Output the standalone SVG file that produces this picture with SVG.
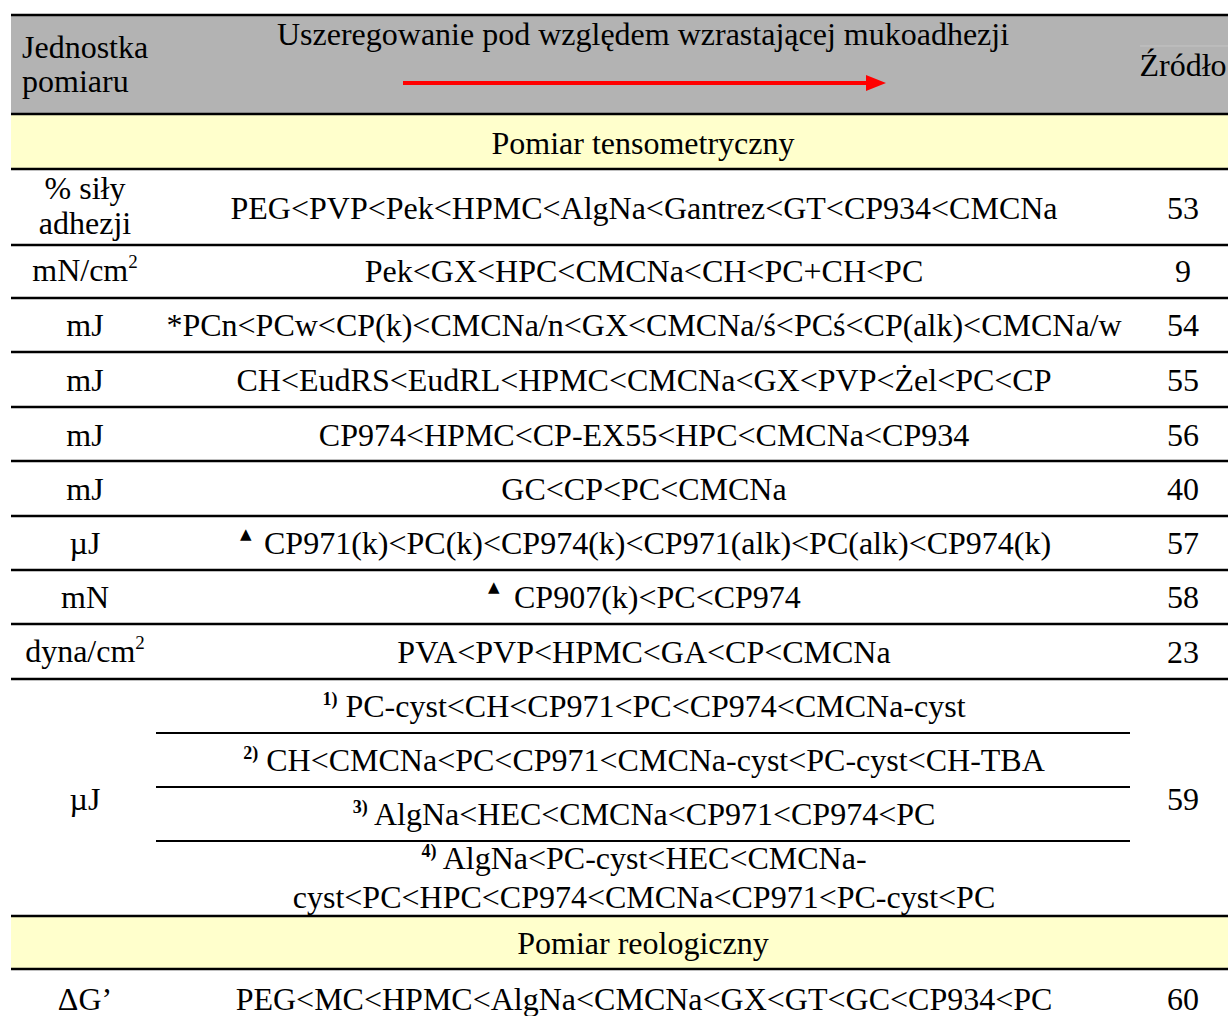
<svg xmlns="http://www.w3.org/2000/svg" width="1228" height="1016" viewBox="0 0 1228 1016">
<style>
text{font-family:"Liberation Serif","Times New Roman",serif;font-size:32px;fill:#000}
.c{text-anchor:middle}
.sup{font-size:19px}
.note{font-size:18px;font-weight:bold}
.tri{font-family:"DejaVu Sans",sans-serif;font-size:15px}
.ln{stroke:#000;stroke-width:2.5}
.sub{stroke:#000;stroke-width:2}
</style>
<defs>
<marker id="ah" markerWidth="6" markerHeight="4" refX="0" refY="2" orient="auto" markerUnits="strokeWidth">
<path d="M0,0 L5,2 L0,4 Z" fill="#ff0000"/>
</marker>
</defs>
<rect x="0" y="0" width="1228" height="1016" fill="#fff"/>
<g id="bands">
<rect x="11" y="15" width="1217" height="99" fill="#b3b3b3"/>
<rect x="11" y="114" width="1217" height="55" fill="#ffffcc"/>
<rect x="11" y="916" width="1217" height="53" fill="#ffffcc"/>
</g>
<g id="header">
<text x="22" y="58">Jednostka</text>
<text x="22" y="92">pomiaru</text>
<text class="c" x="643" y="45">Uszeregowanie pod względem wzrastającej mukoadhezji</text>
<line x1="1140" y1="46" x2="1228" y2="46" stroke="#c4c4c4" stroke-width="1"/>
<text class="c" x="1183" y="76">Źródło</text>
</g>
<g id="connectors">
<line x1="403" y1="83" x2="866" y2="83" stroke="#ff0000" stroke-width="4" marker-end="url(#ah)"/>
</g>
<g id="grid">
<line class="ln" x1="11" y1="15" x2="1228" y2="15"/>
<line class="ln" x1="11" y1="114" x2="1228" y2="114"/>
<line class="ln" x1="11" y1="169" x2="1228" y2="169"/>
<line class="ln" x1="11" y1="245" x2="1228" y2="245"/>
<line class="ln" x1="11" y1="298" x2="1228" y2="298"/>
<line class="ln" x1="11" y1="352" x2="1228" y2="352"/>
<line class="ln" x1="11" y1="407" x2="1228" y2="407"/>
<line class="ln" x1="11" y1="461" x2="1228" y2="461"/>
<line class="ln" x1="11" y1="516" x2="1228" y2="516"/>
<line class="ln" x1="11" y1="570" x2="1228" y2="570"/>
<line class="ln" x1="11" y1="624" x2="1228" y2="624"/>
<line class="ln" x1="11" y1="679" x2="1228" y2="679"/>
<line class="sub" x1="156" y1="733" x2="1130" y2="733"/>
<line class="sub" x1="156" y1="787" x2="1130" y2="787"/>
<line class="sub" x1="156" y1="841" x2="1130" y2="841"/>
<line class="ln" x1="11" y1="916" x2="1228" y2="916"/>
<line class="ln" x1="11" y1="969" x2="1228" y2="969"/>
</g>
<g id="section1">
<text class="c" x="643" y="154">Pomiar tensometryczny</text>
</g>
<g id="row53">
<text class="c" x="85" y="199">% siły</text>
<text class="c" x="85" y="234">adhezji</text>
<text class="c" x="644" y="219">PEG&lt;PVP&lt;Pek&lt;HPMC&lt;AlgNa&lt;Gantrez&lt;GT&lt;CP934&lt;CMCNa</text>
<text class="c" x="1183" y="219">53</text>
</g>
<g id="row9">
<text class="c" x="85" y="281">mN/cm<tspan class="sup" dy="-13">2</tspan></text>
<text class="c" x="644" y="282">Pek&lt;GX&lt;HPC&lt;CMCNa&lt;CH&lt;PC+CH&lt;PC</text>
<text class="c" x="1183" y="282">9</text>
</g>
<g id="row54">
<text class="c" x="85" y="336">mJ</text>
<text class="c" x="644" y="336">*PCn&lt;PCw&lt;CP(k)&lt;CMCNa/n&lt;GX&lt;CMCNa/ś&lt;PCś&lt;CP(alk)&lt;CMCNa/w</text>
<text class="c" x="1183" y="336">54</text>
</g>
<g id="row55">
<text class="c" x="85" y="391">mJ</text>
<text class="c" x="644" y="391">CH&lt;EudRS&lt;EudRL&lt;HPMC&lt;CMCNa&lt;GX&lt;PVP&lt;Żel&lt;PC&lt;CP</text>
<text class="c" x="1183" y="391">55</text>
</g>
<g id="row56">
<text class="c" x="85" y="446">mJ</text>
<text class="c" x="644" y="446">CP974&lt;HPMC&lt;CP-EX55&lt;HPC&lt;CMCNa&lt;CP934</text>
<text class="c" x="1183" y="446">56</text>
</g>
<g id="row40">
<text class="c" x="85" y="500">mJ</text>
<text class="c" x="644" y="500">GC&lt;CP&lt;PC&lt;CMCNa</text>
<text class="c" x="1183" y="500">40</text>
</g>
<g id="row57">
<text class="c" x="85" y="554">µJ</text>
<text class="tri" x="240" y="539">▲</text>
<text x="264" y="554">CP971(k)&lt;PC(k)&lt;CP974(k)&lt;CP971(alk)&lt;PC(alk)&lt;CP974(k)</text>
<text class="c" x="1183" y="554">57</text>
</g>
<g id="row58">
<text class="c" x="85" y="608">mN</text>
<text class="tri" x="488" y="592">▲</text>
<text x="514" y="608">CP907(k)&lt;PC&lt;CP974</text>
<text class="c" x="1183" y="608">58</text>
</g>
<g id="row23">
<text class="c" x="85" y="662">dyna/cm<tspan class="sup" dy="-13">2</tspan></text>
<text class="c" x="644" y="663">PVA&lt;PVP&lt;HPMC&lt;GA&lt;CP&lt;CMCNa</text>
<text class="c" x="1183" y="663">23</text>
</g>
<g id="row59">
<text class="c" x="85" y="810">µJ</text>
<text class="c" x="644" y="717"><tspan class="note" dy="-12">1)</tspan><tspan dy="12"> PC-cyst&lt;CH&lt;CP971&lt;PC&lt;CP974&lt;CMCNa-cyst</tspan></text>
<text class="c" x="644" y="771"><tspan class="note" dy="-12">2)</tspan><tspan dy="12"> CH&lt;CMCNa&lt;PC&lt;CP971&lt;CMCNa-cyst&lt;PC-cyst&lt;CH-TBA</tspan></text>
<text class="c" x="644" y="825"><tspan class="note" dy="-12">3)</tspan><tspan dy="12"> AlgNa&lt;HEC&lt;CMCNa&lt;CP971&lt;CP974&lt;PC</tspan></text>
<text class="c" x="644" y="869"><tspan class="note" dy="-12">4)</tspan><tspan dy="12"> AlgNa&lt;PC-cyst&lt;HEC&lt;CMCNa-</tspan></text>
<text class="c" x="644" y="908">cyst&lt;PC&lt;HPC&lt;CP974&lt;CMCNa&lt;CP971&lt;PC-cyst&lt;PC</text>
<text class="c" x="1183" y="810">59</text>
</g>
<g id="section2">
<text class="c" x="643" y="954">Pomiar reologiczny</text>
</g>
<g id="row60">
<text class="c" x="85" y="1010">ΔG’</text>
<text class="c" x="644" y="1010">PEG&lt;MC&lt;HPMC&lt;AlgNa&lt;CMCNa&lt;GX&lt;GT&lt;GC&lt;CP934&lt;PC</text>
<text class="c" x="1183" y="1010">60</text>
</g>
</svg>
